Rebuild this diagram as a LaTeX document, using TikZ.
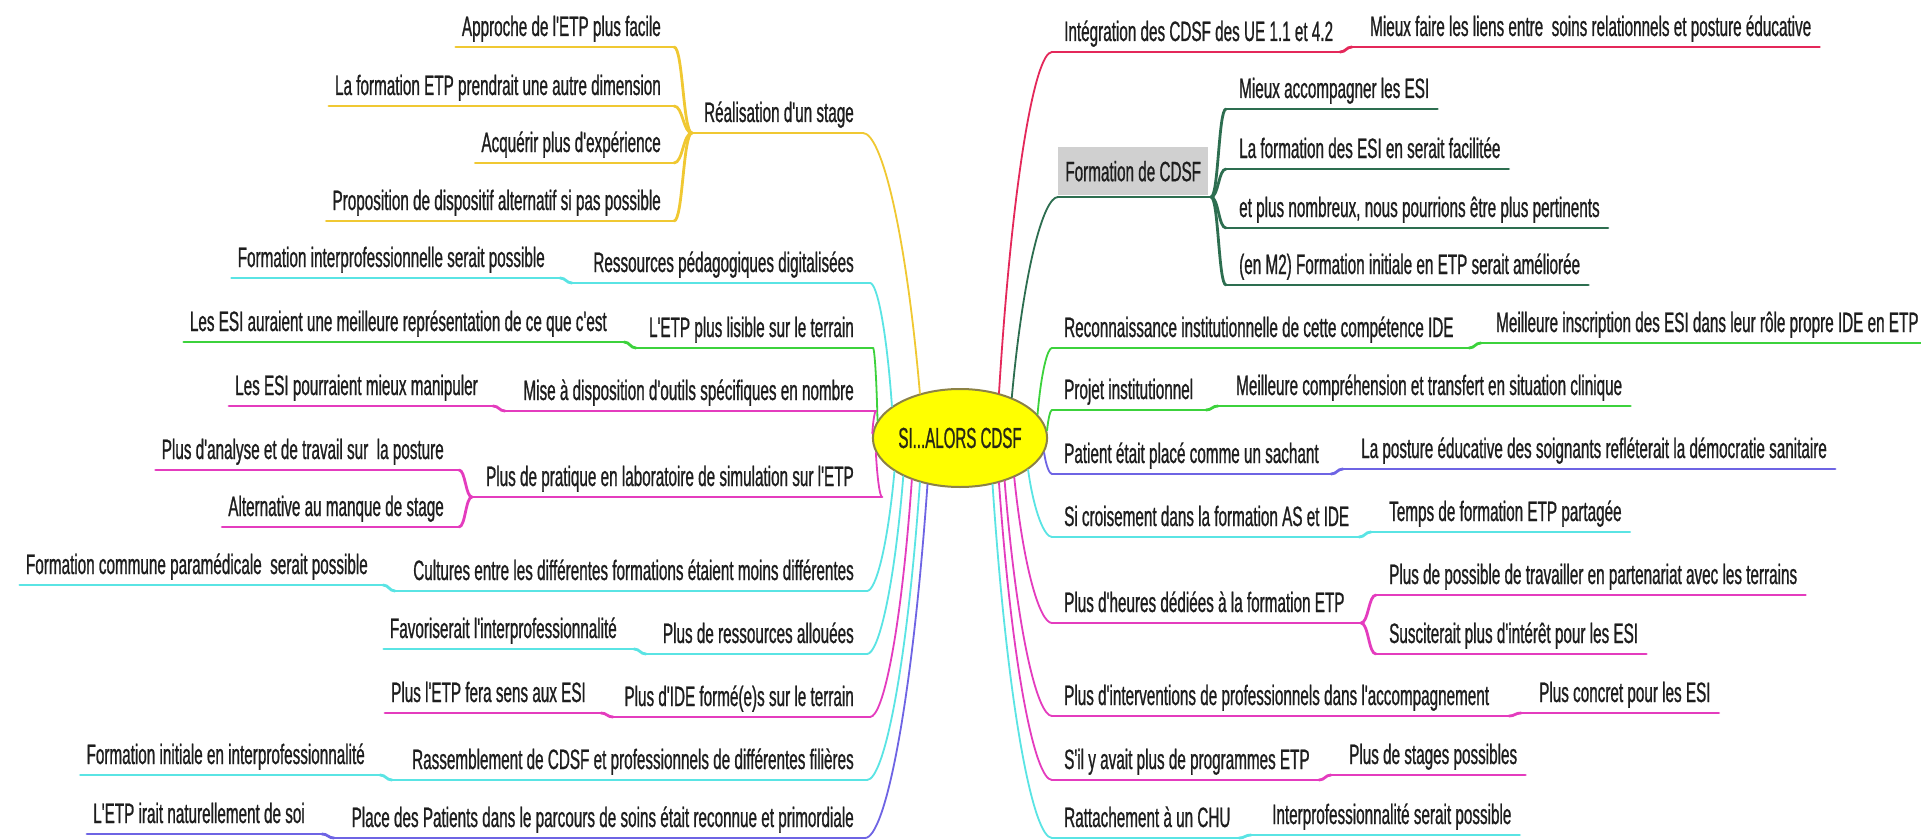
\documentclass[tikz,border=0pt]{standalone}
\usepackage{fontspec}
\newfontfamily\nar{Liberation Sans}[FakeStretch=0.545,FakeBold=0.8]
\newfontfamily\narc{Liberation Sans}[FakeStretch=0.52,FakeBold=0.8]
\usetikzlibrary{calc,shapes.geometric}
\definecolor{cY}{RGB}{240,200,50}
\definecolor{cC}{RGB}{90,228,228}
\definecolor{cG}{RGB}{60,210,60}
\definecolor{cM}{RGB}{228,60,190}
\definecolor{cB}{RGB}{110,100,228}
\definecolor{cR}{RGB}{228,40,90}
\definecolor{cD}{RGB}{45,110,80}
\definecolor{ellY}{RGB}{255,255,0}
\definecolor{ellB}{RGB}{140,130,70}
\definecolor{boxg}{RGB}{208,208,208}
\definecolor{txt}{RGB}{30,30,30}
\definecolor{txtC}{RGB}{40,40,20}
\tikzset{
  lbl/.style={font=\nar\fontsize{28}{32}\selectfont, text=txt, inner sep=0pt},
  L/.style={lbl, anchor=base east},
  R/.style={lbl, anchor=base west},
  ul/.style={line width=2.8pt, line cap=round},
  con/.style={line width=1.8pt, line cap=round},
}
% connector from the centre to a branch
\newcommand\mmconn[3]{\draw[con,#1] let \p1=(#2), \p2=(#3) in (\p1) .. controls ({\x1+0.25*(\x2-\x1)},{\y1+0.63*(\y2-\y1)}) and ({\x2-0.32*(\x2-\x1)},\y2) .. (\p2);}
% small S step between parent and child
\newcommand\mmstep[3]{\draw[ul,#1] let \p1=(#2), \p2=(#3) in (\p1) .. controls ({0.5*(\x1+\x2)},\y1) and ({0.5*(\x1+\x2)},\y2) .. (\p2);}
% #1 name #2 colour #3 angle #4 underline y #5 T x #6 J x #7 text
\newcommand\Lpar[7]{%
  \node[L] (#1) at (854,{#4-11}) {#7};
  \coordinate (#1t) at (#5,#4); \coordinate (#1j) at (#6,#4);
  \mmconn{#2}{c.#3}{#1t}
  \draw[ul,#2] (#1t) -- (#1j);}
\newcommand\Rpar[7]{%
  \node[R] (#1) at (1064,{#4-11}) {#7};
  \coordinate (#1t) at (#5,#4); \coordinate (#1j) at (#6,#4);
  \mmconn{#2}{c.#3}{#1t}
  \draw[ul,#2] (#1t) -- (#1j);}
% #1 name #2 colour #3 junction #4 E x #5 underline y #6 text x #7 text
\newcommand\Lkid[7]{%
  \coordinate (#1e) at (#4,#5);
  \node[L] (#1) at (#6,{#5-11}) {#7};
  \mmstep{#2}{#3}{#1e}
  \draw[ul,#2] (#1e) -- ($(#1e -| #1.west)+(-6,0)$);}
\newcommand\Rkid[7]{%
  \coordinate (#1e) at (#4,#5);
  \node[R] (#1) at (#6,{#5-11}) {#7};
  \mmstep{#2}{#3}{#1e}
  \draw[ul,#2] (#1e) -- ($(#1e -| #1.east)+(8,0)$);}

\begin{document}
\begin{tikzpicture}[x=1pt,y=-1pt]
\useasboundingbox (0,0) rectangle (1921,840);
\fill[white] (0,0) rectangle (1921,840);

\node[ellipse, draw=ellB, line width=2pt, fill=ellY, minimum width=145pt, minimum height=98pt,
      inner sep=0pt, text=txtC, font=\narc\fontsize{29}{32}\selectfont] (c) at (960,438) {SI...ALORS CDSF};

% ---------------- left side
\Lpar{la}{cY}{132}{133}{863}{692}{Réalisation d'un stage}
\Lkid{laa}{cY}{laj}{674}{47}{661}{Approche de l'ETP plus facile}
\Lkid{lab}{cY}{laj}{674}{106}{661}{La formation ETP prendrait une autre dimension}
\Lkid{lac}{cY}{laj}{674}{163}{661}{Acquérir plus d'expérience}
\Lkid{lad}{cY}{laj}{674}{221}{661}{Proposition de dispositif alternatif si pas possible}

\Lpar{lb}{cC}{155}{283}{870}{572}{Ressources pédagogiques digitalisées}
\Lkid{lba}{cC}{lbj}{560}{278}{545}{Formation interprofessionnelle serait possible}

\Lpar{lc}{cG}{168}{348}{873}{636}{L'ETP plus lisible sur le terrain}
\Lkid{lca}{cG}{lcj}{624}{342}{607}{Les ESI auraient une meilleure représentation de ce que c'est}

\Lpar{ld}{cM}{177}{411}{876}{505}{Mise à disposition d'outils spécifiques en nombre}
\Lkid{lda}{cM}{ldj}{493}{406}{478}{Les ESI pourraient mieux manipuler}

\Lpar{le}{cM}{190}{497}{882}{472}{Plus de pratique en laboratoire de simulation sur l'ETP}
\Lkid{lea}{cM}{lej}{459}{470}{444}{Plus d'analyse et de travail sur\ \ la posture}
\Lkid{leb}{cM}{lej}{459}{527}{444}{Alternative au manque de stage}

\Lpar{lf}{cC}{207}{591}{867}{395}{Cultures entre les différentes formations étaient moins différentes}
\Lkid{lfa}{cC}{lfj}{383}{585}{368}{Formation commune paramédicale\ \ serait possible}

\Lpar{lg}{cC}{214}{654}{867}{646}{Plus de ressources allouées}
\Lkid{lga}{cC}{lgj}{634}{649}{617}{Favoriserait l'interprofessionnalité}

\Lpar{lh}{cM}{221}{717}{870}{613}{Plus d'IDE formé(e)s sur le terrain}
\Lkid{lha}{cM}{lhj}{601}{713}{586}{Plus l'ETP fera sens aux ESI}

\Lpar{li}{cC}{228}{780}{867}{392}{Rassemblement de CDSF et professionnels de différentes filières}
\Lkid{lia}{cC}{lij}{380}{775}{365}{Formation initiale en interprofessionnalité}

\Lpar{lj}{cB}{235}{838}{865}{334}{Place des Patients dans le parcours de soins était reconnue et primordiale}
\Lkid{lja}{cB}{ljj}{322}{834}{305}{L'ETP irait naturellement de soi}

% ---------------- right side
\Rpar{ra}{cR}{49}{52}{1052}{1340}{Intégration des CDSF des UE 1.1 et 4.2}
\Rkid{raa}{cR}{raj}{1352}{47}{1370}{Mieux faire les liens entre\ \ soins relationnels et posture éducative}

\node[lbl, fill=boxg, anchor=north west, minimum width=150pt, minimum height=48pt] (rb) at (1058,147) {Formation de CDSF};
\coordinate (rbt) at (1058,197); \coordinate (rbj) at (1211,197);
\mmconn{cD}{c.38}{rbt}
\draw[ul,cD] (rbt) -- (rbj);
\Rkid{rba}{cD}{rbj}{1226}{109}{1239}{Mieux accompagner les ESI}
\Rkid{rbb}{cD}{rbj}{1226}{169}{1239}{La formation des ESI en serait facilitée}
\Rkid{rbc}{cD}{rbj}{1226}{228}{1239}{et plus nombreux, nous pourrions être plus pertinents}
\Rkid{rbd}{cD}{rbj}{1226}{285}{1239}{(en M2) Formation initiale en ETP serait améliorée}

\Rpar{rc}{cG}{17}{348}{1052}{1469}{Reconnaissance institutionnelle de cette compétence IDE}
\Rkid{rca}{cG}{rcj}{1481}{343}{1496}{Meilleure inscription des ESI dans leur rôle propre IDE en ETP}

\Rpar{rd}{cG}{5}{410}{1052}{1206}{Projet institutionnel}
\Rkid{rda}{cG}{rdj}{1218}{406}{1236}{Meilleure compréhension et transfert en situation clinique}

\Rpar{re}{cB}{350}{474}{1052}{1331}{Patient était placé comme un sachant}
\Rkid{rea}{cB}{rej}{1343}{469}{1361}{La posture éducative des soignants refléterait la démocratie sanitaire}

\Rpar{rf}{cC}{335}{537}{1052}{1359}{Si croisement dans la formation AS et IDE}
\Rkid{rfa}{cC}{rfj}{1371}{532}{1389}{Temps de formation ETP partagée}

\Rpar{rg}{cM}{324}{623}{1052}{1361}{Plus d'heures dédiées à la formation ETP}
\Rkid{rga}{cM}{rgj}{1376}{595}{1389}{Plus de possible de travailler en partenariat avec les terrains}
\Rkid{rgb}{cM}{rgj}{1376}{654}{1389}{Susciterait plus d'intérêt pour les ESI}

\Rpar{rh}{cM}{316}{716}{1052}{1509}{Plus d'interventions de professionnels dans l'accompagnement}
\Rkid{rha}{cM}{rhj}{1521}{713}{1539}{Plus concret pour les ESI}

\Rpar{ri}{cM}{311}{780}{1052}{1319}{S'il y avait plus de programmes ETP}
\Rkid{ria}{cM}{rij}{1331}{775}{1349}{Plus de stages possibles}

\Rpar{rj}{cC}{305}{838}{1052}{1239}{Rattachement à un CHU}
\Rkid{rja}{cC}{rjj}{1251}{835}{1272}{Interprofessionnalité serait possible}
\end{tikzpicture}
\end{document}
